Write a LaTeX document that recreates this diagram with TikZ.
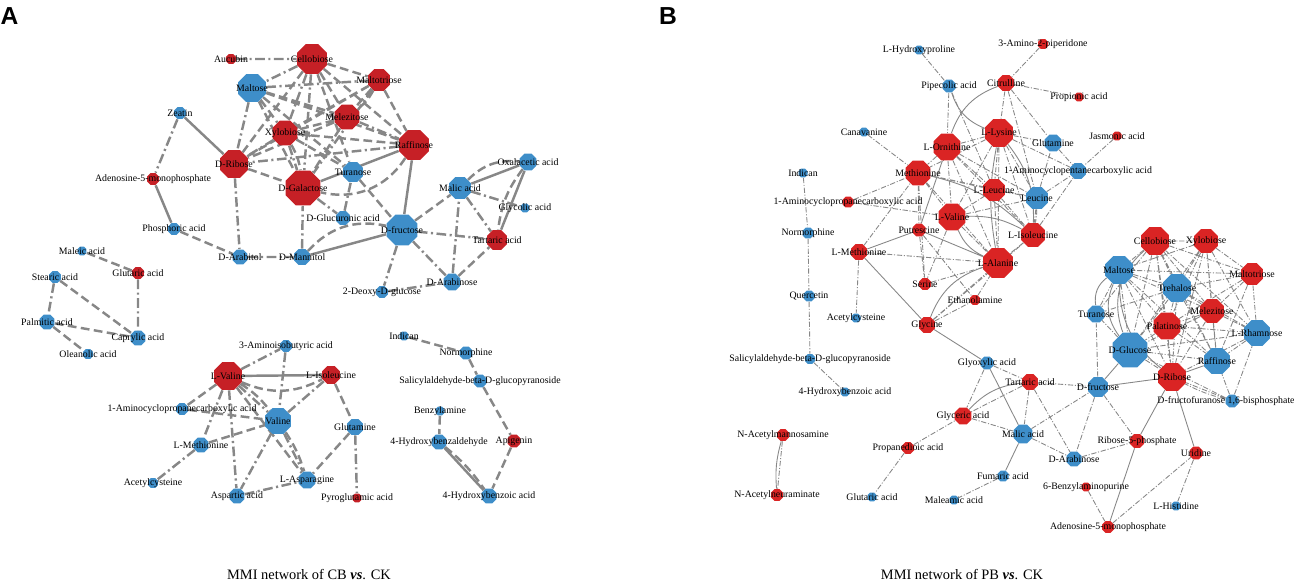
\documentclass[tikz,border=0pt]{standalone}
\usepackage{fontspec}
\setmainfont{Liberation Serif}
\newfontfamily\panelfont{Liberation Sans}
\usetikzlibrary{shapes.geometric, backgrounds}
\definecolor{netred}{RGB}{198,32,38}
\definecolor{netredb}{RGB}{218,36,36}
\definecolor{netblue}{RGB}{62,142,201}
\definecolor{edgegray}{RGB}{135,135,135}

\begin{document}
\begin{tikzpicture}[x=0.02cm, y=-0.02cm,
    met/.style={regular polygon, regular polygon sides=8, inner sep=0pt, minimum size=#1*0.0216cm},
    ra/.style={met=#1, fill=netred},
    rb/.style={met=#1, fill=netredb},
    bl/.style={met=#1, fill=netblue},
    every label/.style={font=\fontsize{5.6}{6}\selectfont, inner sep=0pt},
    aed/.style={draw=edgegray, line width=1.4pt},
    ads/.style={aed, dash pattern=on 5pt off 2.5pt},
    add/.style={aed, dash pattern=on 5.5pt off 2pt on 1.2pt off 2pt},
    bed/.style={draw=edgegray, line width=0.5pt},
    bdd/.style={bed, dash pattern=on 3pt off 1pt on 0.6pt off 1pt}]
  \useasboundingbox (0,0) rectangle (1294,585);

  % panel A
  \node[font=\panelfont\bfseries\fontsize{14}{14}\selectfont, anchor=base] (pa) at (9.5,24) {A};
  \node[ra=10, label=center:{Aucubin}] (aauc) at (231,59) {};
  \node[ra=30, label=center:{Cellobiose}] (acel) at (312,59) {};
  \node[bl=28, label=center:{Maltose}] (amal) at (252,88) {};
  \node[ra=22, label=center:{Maltotriose}] (amtr) at (379,80) {};
  \node[ra=25, label=center:{Melezitose}] (amel) at (347,117) {};
  \node[ra=25, label=center:{Xylobiose}] (axyl) at (285,133) {};
  \node[ra=30, label=center:{Raffinose}] (araf) at (414,145) {};
  \node[bl=12, label=center:{Zeatin}] (azea) at (180,113) {};
  \node[ra=28, label=center:{D-Ribose}] (arib) at (234,164) {};
  \node[ra=12, label=center:{Adenosine-5-monophosphate}] (aamp) at (153,179) {};
  \node[ra=35, label=center:{D-Galactose}] (agal) at (303,188) {};
  \node[bl=20, label=center:{Turanose}] (atur) at (353,172) {};
  \node[bl=14, label=center:{D-Glucuronic acid}] (agcu) at (343,218) {};
  \node[bl=31, label=center:{D-fructose}] (afru) at (402,230) {};
  \node[bl=12, label=center:{Phosphoric acid}] (apho) at (174,229) {};
  \node[bl=15, label=center:{D-Arabitol}] (aart) at (240,257) {};
  \node[bl=16, label=center:{D-Mannitol}] (aman) at (302,257) {};
  \node[bl=12, label=center:{2-Deoxy-D-glucose}] (adeo) at (382,292) {};
  \node[bl=17, label=center:{D-Arabinose}] (aara) at (452,282) {};
  \node[bl=22, label=center:{Malic acid}] (amlc) at (460,188) {};
  \node[bl=17, label=center:{Oxalacetic acid}] (aoxa) at (528,162) {};
  \node[bl=9, label=center:{Glycolic acid}] (agly) at (525,208) {};
  \node[ra=20, label=center:{Tartaric acid}] (atar) at (497,240) {};
  \node[bl=9, label=center:{Maleic acid}] (amle) at (82,251) {};
  \node[ra=12, label=center:{Glutaric acid}] (aglu) at (138,273) {};
  \node[bl=12, label=center:{Stearic acid}] (aste) at (55,277) {};
  \node[bl=15, label=center:{Palmitic acid}] (apal) at (47,322) {};
  \node[bl=15, label=center:{Caprylic acid}] (acap) at (138,338) {};
  \node[bl=10, label=center:{Oleanolic acid}] (aole) at (88,354) {};
  \node[bl=12, label=center:{3-Aminoisobutyric acid}] (aaib) at (286,346) {};
  \node[ra=28, label=center:{L-Valine}] (alval) at (228,376) {};
  \node[ra=18, label=center:{L-Isoleucine}] (alile) at (331,375) {};
  \node[bl=12, label=center:{1-Aminocyclopropanecarboxylic acid}] (aacc) at (182,409) {};
  \node[bl=26, label=center:{Valine}] (aval) at (278,421) {};
  \node[bl=15, label=center:{L-Methionine}] (almet) at (201,445) {};
  \node[bl=16, label=center:{Glutamine}] (agln) at (355,427) {};
  \node[bl=17, label=center:{L-Asparagine}] (aasn) at (307,480) {};
  \node[bl=10, label=center:{Acetylcysteine}] (aacy) at (153,483) {};
  \node[bl=15, label=center:{Aspartic acid}] (aasp) at (237,496) {};
  \node[ra=9, label=center:{Pyroglutamic acid}] (apyr) at (357,498) {};
  \node[bl=9, label=center:{Indican}] (aind) at (404,336) {};
  \node[bl=13, label=center:{Normorphine}] (anor) at (466,353) {};
  \node[bl=13, label=center:{Salicylaldehyde-beta-D-glucopyranoside}] (asal) at (480,381) {};
  \node[bl=9, label=center:{Benzylamine}] (aben) at (440,411) {};
  \node[bl=15, label=center:{4-Hydroxybenzaldehyde}] (ahba) at (439,442) {};
  \node[ra=13, label=center:{Apigenin}] (aapi) at (514,441) {};
  \node[bl=15, label=center:{4-Hydroxybenzoic acid}] (ahbz) at (489,496) {};
  \node[font=\fontsize{8.2}{9}\selectfont, anchor=base] (capa) at (309,579) {MMI network of CB \textbf{\textit{vs}}. CK};

  % panel B
  \node[font=\panelfont\bfseries\fontsize{14}{14}\selectfont, anchor=base] (pb) at (668,24) {B};
  \node[bl=9, label=center:{L-Hydroxyproline}] (bhyp) at (919,50) {};
  \node[bl=13, label=center:{Pipecolic acid}] (bpip) at (949,86) {};
  \node[rb=10, label=center:{3-Amino-2-piperidone}] (bapi) at (1043,44) {};
  \node[rb=16, label=center:{Citrulline}] (bcit) at (1006,83) {};
  \node[rb=9, label=center:{Propionic acid}] (bpro) at (1079,97) {};
  \node[bl=9, label=center:{Canavanine}] (bcan) at (864,132) {};
  \node[rb=27, label=center:{L-Ornithine}] (born) at (947,147) {};
  \node[rb=28, label=center:{L-Lysine}] (blys) at (999,133) {};
  \node[bl=17, label=center:{Glutamine}] (bgln) at (1053,143) {};
  \node[rb=9, label=center:{Jasmonic acid}] (bjas) at (1117,136) {};
  \node[bl=16, label=center:{1-Aminocyclopentanecarboxylic acid}] (bacp) at (1078,171) {};
  \node[bl=9, label=center:{Indican}] (bind) at (803,173) {};
  \node[rb=25, label=center:{Methionine}] (bmet) at (918,173) {};
  \node[rb=11, label=center:{1-Aminocyclopropanecarboxylic acid}] (bacc) at (848,202) {};
  \node[rb=27, label=center:{L-Valine}] (blval) at (952,217) {};
  \node[rb=22, label=center:{L-Leucine}] (bleu) at (994,190) {};
  \node[bl=22, label=center:{Leucine}] (bxleu) at (1037,198) {};
  \node[rb=24, label=center:{L-Isoleucine}] (bile) at (1033,235) {};
  \node[rb=30, label=center:{L-Alanine}] (bala) at (998,263) {};
  \node[bl=11, label=center:{Normorphine}] (bnor) at (808,233) {};
  \node[rb=13, label=center:{Putrescine}] (bput) at (919,230) {};
  \node[rb=16, label=center:{L-Methionine}] (blmet) at (859,252) {};
  \node[rb=12, label=center:{Serine}] (bser) at (925,284) {};
  \node[rb=10, label=center:{Ethanolamine}] (beth) at (975,300) {};
  \node[bl=11, label=center:{Quercetin}] (bque) at (809,296) {};
  \node[bl=9, label=center:{Acetylcysteine}] (bacy) at (856,318) {};
  \node[rb=16, label=center:{Glycine}] (bgly) at (927,325) {};
  \node[bl=10, label=center:{Salicylaldehyde-beta-D-glucopyranoside}] (bsal) at (810,359) {};
  \node[bl=9, label=center:{4-Hydroxybenzoic acid}] (bhbz) at (845,392) {};
  \node[bl=13, label=center:{Glyoxylic acid}] (bglx) at (987,363) {};
  \node[rb=17, label=center:{Glyceric acid}] (bgla) at (963,416) {};
  \node[rb=16, label=center:{Tartaric acid}] (btar) at (1030,382) {};
  \node[bl=19, label=center:{Malic acid}] (bmlc) at (1023,434) {};
  \node[bl=11, label=center:{Fumaric acid}] (bfum) at (1003,476) {};
  \node[bl=9, label=center:{Maleamic acid}] (bmla) at (954,500) {};
  \node[bl=9, label=center:{Glutaric acid}] (bglu) at (872,497) {};
  \node[rb=12, label=center:{Propanedioic acid}] (bpdo) at (908,448) {};
  \node[rb=12, label=center:{N-Acetylmannosamine}] (bnam) at (783,435) {};
  \node[rb=12, label=center:{N-Acetylneuraminate}] (bnan) at (777,495) {};
  \node[rb=28, label=center:{Cellobiose}] (bcel) at (1155,241) {};
  \node[rb=24, label=center:{Xylobiose}] (bxyl) at (1206,241) {};
  \node[rb=22, label=center:{Maltotriose}] (bmtr) at (1252,274) {};
  \node[bl=28, label=center:{Maltose}] (bmal) at (1119,270) {};
  \node[bl=28, label=center:{Trehalose}] (btre) at (1177,288) {};
  \node[rb=24, label=center:{Melezitose}] (bmel) at (1212,311) {};
  \node[rb=27, label=center:{Palatinose}] (bpal) at (1167,326) {};
  \node[bl=26, label=center:{L-Rhamnose}] (brha) at (1257,333) {};
  \node[bl=35, label=center:{D-Glucose}] (bglc) at (1130,350) {};
  \node[bl=26, label=center:{Raffinose}] (braf) at (1217,361) {};
  \node[rb=28, label=center:{D-Ribose}] (brib) at (1172,377) {};
  \node[bl=17, label=center:{Turanose}] (btur) at (1096,314) {};
  \node[bl=20, label=center:{D-fructose}] (bfru) at (1098,387) {};
  \node[bl=13, label={[xshift=-0.12cm]center:{D-fructofuranose 1,6-bisphosphate}}] (bffb) at (1232,401) {};
  \node[rb=14, label=center:{Ribose-5-phosphate}] (br5p) at (1137,441) {};
  \node[bl=15, label=center:{D-Arabinose}] (bara) at (1074,459) {};
  \node[rb=13, label=center:{Uridine}] (burd) at (1196,453) {};
  \node[rb=9, label=center:{6-Benzylaminopurine}] (bbap) at (1086,487) {};
  \node[bl=9, label=center:{L-Histidine}] (bhis) at (1176,506) {};
  \node[rb=12, label=center:{Adenosine-5-monophosphate}] (bamp) at (1108,527) {};
  \node[font=\fontsize{8.2}{9}\selectfont, anchor=base] (capb) at (962,579) {MMI network of PB \textbf{\textit{vs}}. CK};

  \begin{scope}[on background layer]
    % A: sugars
    \draw[add] (aauc) -- (acel) (azea) -- (aamp) (arib) -- (aart) (aart) -- (aman)
      (aman) -- (agal) (agal) -- (agcu) (agcu) -- (atur) (afru) -- (atar) (afru) -- (aara)
      (afru) -- (adeo) (adeo) -- (aara) (aara) -- (amlc) (amlc) -- (atar) (amlc) -- (agly);
    \draw[ads] (apho) -- (aart) (atur) -- (afru) (afru) -- (amlc) (aara) -- (atar)
      (aman) to[bend left=30] (afru) (araf) to[bend left=35] (agal)
      (amlc) to[bend left=25] (aoxa) (aoxa) to[bend right=15] (atar);
    \draw[aed] (azea) -- (arib) (aamp) -- (apho) (aman) -- (afru) (araf) -- (agal)
      (araf) -- (afru) (amlc) -- (aoxa) (aoxa) -- (atar);
    \draw[add] (acel) -- (amal) (acel) -- (axyl) (acel) -- (agal) (amal) -- (amtr)
      (amal) -- (arib) (amtr) -- (agal) (amel) -- (araf) (amel) -- (agal)
      (axyl) -- (arib) (axyl) -- (agal) (araf) -- (arib);
    \draw[ads] (acel) -- (amtr) (acel) -- (amel) (acel) -- (araf) (acel) -- (arib)
      (acel) -- (atur) (amal) -- (amel) (amal) -- (axyl) (amal) -- (araf) (amal) -- (agal)
      (amal) -- (atur) (amtr) -- (amel) (amtr) to[bend left=12] (amel) (amtr) -- (axyl)
      (amtr) -- (araf) (amtr) -- (arib) (amel) -- (axyl) (amel) -- (arib)
      (axyl) -- (araf) (axyl) to[bend left=10] (agal) (axyl) -- (atur) (arib) -- (agal);
    % A: fatty acids
    \draw[ads] (amle) -- (aglu) (aste) -- (acap) (apal) -- (acap) (apal) -- (aole);
    \draw[add] (aglu) -- (acap) (aste) -- (apal);
    % A: amino acids
    \draw[aed] (alval) -- (alile);
    \draw[add] (alval) -- (aaib) (alval) -- (almet) (alval) -- (aasp) (aaib) -- (aval)
      (almet) -- (aacy) (aval) -- (aasp) (aval) -- (aasn) (aval) -- (alile)
      (aasp) -- (aasn) (agln) -- (apyr) (alval) -- (aval);
    \draw[ads] (alval) -- (aacc) (alval) -- (aasn) (aacc) -- (aval) (almet) -- (aval)
      (alile) -- (agln) (agln) -- (aasn) (alval) to[bend right=25] (alile)
      (aval) to[bend left=8] (aasn) (alval) to[bend left=10] (aval);
    % A: others
    \draw[ads] (aind) -- (anor) (anor) -- (asal) (asal) -- (aapi) (aapi) -- (ahbz)
      (aben) -- (ahba) (ahba) to[bend left=8] (ahbz);
    \draw[aed] (ahba) -- (ahbz);

    % B: periphery
    \draw[bdd] (bhyp) -- (bpip) (bpip) -- (born) (bpip) -- (bleu) (bcan) -- (bmet)
      (bind) -- (bnor) (bnor) -- (bque) (bque) -- (bsal) (bsal) -- (bhbz)
      (bacc) -- (bmet) (bacc) -- (blval) (blmet) -- (bacy) (blmet) -- (bmet)
      (blmet) -- (bala) (bapi) -- (bcit) (bcit) -- (bpro) (bcit) -- (blys)
      (bcit) -- (bgln) (bjas) -- (bacp) (bnam) -- (bnan) (bpdo) -- (bgla)
      (bpdo) -- (bglu) (bgly) -- (beth) (bgly) -- (bala) (bglx) -- (bgla)
      (btar) -- (bfru) (btar) -- (bmlc) (btar) -- (bara) (bgla) -- (bmlc)
      (bmlc) -- (bfru) (bmlc) -- (bara) (bfum) -- (bmla) (bfru) -- (bara)
      (bfru) -- (br5p) (bfru) -- (btur) (bara) -- (br5p) (bbap) -- (bamp)
      (bamp) -- (burd) (burd) -- (bhis) (bffb) -- (brib) (bffb) to[bend left=6] (brib)
      (bffb) -- (braf) (bffb) -- (brha) (bffb) -- (bglc) (btar) -- (bgla) (bglx) -- (btar);
    \draw[bed] (blmet) -- (bgly) (blmet) -- (bput) (bgly) -- (bglx) (bglx) -- (bmlc)
      (bmlc) -- (bfum) (bfru) -- (bglc) (bfru) -- (brib) (br5p) -- (brib)
      (br5p) -- (bamp) (burd) -- (brib) (bpip) to[bend right=25] (blys)
      (bcit) to[bend right=25] (born) (bnam) to[bend right=10] (bnan)
      (bgly) to[bend left=25] (bala) (btar) to[bend right=20] (bgla);
    % B: amino acids
    \draw[bdd] (born) -- (blys) (born) -- (bmet) (born) -- (blval) (born) -- (bleu)
      (born) -- (bala) (born) -- (bile) (born) -- (bxleu) (blys) -- (bgln)
      (blys) -- (bleu) (blys) -- (bala) (blys) -- (bile) (blys) -- (blval)
      (blys) -- (bmet) (blys) -- (bacp) (blys) -- (bxleu) (bmet) -- (blval)
      (bmet) -- (bleu) (bmet) -- (bxleu) (bmet) -- (bput) (bmet) -- (bser)
      (bmet) -- (bala) (blval) -- (bleu) (blval) -- (bxleu) (blval) -- (bser)
      (blval) -- (bala) (bleu) -- (bxleu) (bleu) -- (bile) (bleu) -- (bala)
      (bxleu) -- (bile) (bxleu) to[bend left=5] (bile) (bxleu) -- (bgln) (bxleu) -- (bacp)
      (bile) -- (bala) (bile) -- (bacp) (bput) -- (bser) (bput) -- (beth)
      (bser) -- (bala) (beth) -- (bala) (bgln) -- (bacp) (bgly) -- (bile)
      (bcit) -- (bxleu);
    \draw[bed] (born) -- (bput) (bput) -- (bala) (bmet) to[bend left=15] (bile)
      (blval) to[bend left=15] (bile) (blval) to[bend right=20] (bala)
      (blys) to[bend left=20] (bile) (blys) to[bend right=10] (bala);
    % B: sugars
    \draw[bdd] (bcel) -- (bxyl) (bcel) -- (bmal) (bcel) -- (btre) (bcel) -- (bmtr)
      (bcel) -- (bmel) (bcel) -- (bpal) (bcel) -- (bglc) (bcel) -- (braf)
      (bcel) -- (brib) (bcel) -- (brha) (bcel) -- (btur) (bxyl) -- (bmal)
      (bxyl) -- (btre) (bxyl) -- (bmtr) (bxyl) -- (bmel) (bxyl) -- (bpal)
      (bxyl) -- (bglc) (bxyl) -- (braf) (bxyl) -- (brha) (bxyl) -- (brib)
      (bmtr) -- (bmal) (bmtr) -- (btre) (bmtr) -- (bmel) (bmtr) -- (brha)
      (bmtr) -- (braf) (bmtr) -- (bpal) (bmal) -- (btre) (bmal) -- (bmel)
      (bmal) -- (bpal) (bmal) -- (bglc) (bmal) -- (braf) (bmal) -- (brib)
      (btre) -- (bmel) (btre) -- (bpal) (btre) -- (bglc) (btre) -- (braf)
      (btre) -- (brha) (btre) -- (brib) (btre) -- (btur) (bmel) -- (bpal)
      (bmel) -- (brha) (bmel) -- (braf) (bmel) -- (bglc) (bmel) -- (brib)
      (bpal) -- (brha) (bpal) -- (bglc) (bpal) -- (braf) (bpal) -- (brib)
      (brha) -- (braf) (brha) -- (bglc) (brha) -- (brib) (bglc) -- (braf)
      (bglc) -- (brib) (bglc) -- (btur) (bmal) -- (btur);
    \draw[bed] (bmal) to[bend right=30] (bglc) (bcel) to[bend right=35] (bglc)
      (btur) to[bend left=30] (bmal) (braf) -- (brib) (bmal) to[bend right=25] (brib);
  \end{scope}
\end{tikzpicture}
\end{document}
